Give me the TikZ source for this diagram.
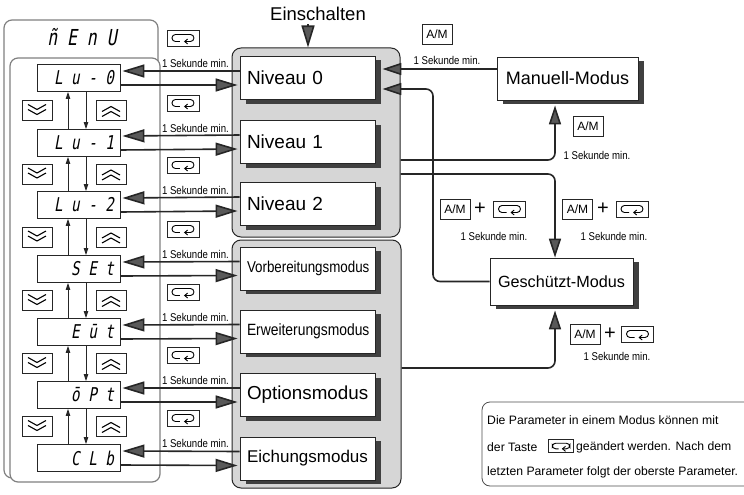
\documentclass[tikz,border=0pt]{standalone}
\usepackage{fontspec}
\setmainfont{Liberation Sans}
\newfontfamily\narrowfont{Liberation Sans}[FakeStretch=0.85]
\newfontfamily\segfont{DejaVu Sans Mono}[FakeSlant=0.18,FakeStretch=0.75,LetterSpace=45]
\usetikzlibrary{arrows.meta,calc,shadows}
\newcommand{\myfs}[1]{\fontsize{#1}{#1}\selectfont}
\begin{document}
\begin{tikzpicture}[x=1pt,y=-1pt,
 conn/.style={draw=black!85,line width=1.6pt},
 bigtip/.style={-{Triangle[length=22pt,width=13pt,fill=black!65]}},
 midtip/.style={-{Triangle[length=19pt,width=12pt,fill=black!65]}},
 smalltip/.style={-{Triangle[length=7pt,width=4.5pt]}},
 grp/.style={draw=black!85,line width=1pt,fill=black!16,rounded corners=9pt,inner sep=0pt},
 shad/.style={drop shadow={shadow xshift=6pt,shadow yshift=-4pt,fill=black!75,opacity=1}},
 modebox/.style={draw=black!85,line width=0.8pt,fill=white,minimum width=135pt,minimum height=43pt,text width=121pt,inner xsep=7pt,align=left,shad},
 sidebox/.style={draw=black!85,line width=0.8pt,fill=white,inner sep=0pt,shad},
 disp/.style={draw=black!85,line width=0.9pt,fill=white,minimum width=83pt,minimum height=27pt,text width=71pt,inner xsep=6pt,inner ysep=0pt,align=right,font=\segfont\myfs{19}},
 menuframe/.style={draw=black!50,line width=1.2pt,rounded corners=8pt},
 keyframe/.style={draw=black!85,line width=0.7pt,fill=white},
 amkey/.style={draw=black!85,line width=0.7pt,fill=white,inner sep=0pt,minimum width=30pt,minimum height=20pt,font=\myfs{12}},
 sek/.style={font=\narrowfont\myfs{11.3},inner sep=0pt},
 plus/.style={font=\myfs{20},inner sep=0pt},
 notetext/.style={anchor=west,font=\myfs{12.2},inner sep=0pt},
 retkey/.pic={
   \draw[keyframe] (-16,-8) rectangle (16,8);
   \draw[line width=0.9pt,rounded corners=3.5pt,-{Straight Barb[length=3pt,width=5pt]}] (-3,3.5) -- (-11,3.5) -- (-11,-3.5) -- (11,-3.5) -- (11,3.5) -- (1,3.5);
   \coordinate (-c) at (0,0);
 },
 downkey/.pic={
   \draw[keyframe] (-15,-10) rectangle (15,10);
   \draw[line width=1.1pt] (-9,-6) -- (0,-1) -- (9,-6) (-9,-1) -- (0,4) -- (9,-1);
   \coordinate (-c) at (0,0);
 },
 upkey/.pic={
   \draw[keyframe] (-15,-10) rectangle (15,10);
   \draw[line width=1.1pt] (-9,1) -- (0,-4) -- (9,1) (-9,6) -- (0,1) -- (9,6);
   \coordinate (-c) at (0,0);
 }]
\useasboundingbox (0,0) rectangle (744,495);

% menu frames
\draw[menuframe] (4,20) rectangle (158,478);
\draw[menuframe,fill=white] (10,58) rectangle (160,482);
\node[font=\segfont\myfs{22}] (menu) at (82,37) {ñEnU};

% displays
\foreach \i/\r/\t in {0/78/Lu-0,1/143/Lu-1,2/205/Lu-2,3/269/SEt,4/332/Eūt,5/395/ōPt,6/458/CLb}
  \node[disp] (d\i) at (78.5,\r) {\t};

\coordinate (ux) at (68,0);
\coordinate (dx) at (86,0);
\foreach \i/\j in {0/1,1/2,2/3,3/4,4/5,5/6} {
  \draw[line width=0.9pt,black!85,smalltip] (d\j.north -| ux) -- (d\i.south -| ux);
  \draw[line width=0.9pt,black!85,smalltip] (d\i.south -| dx) -- (d\j.north -| dx);
  \pic (dk\i) at ($(d\i.south)!0.5!(d\j.north)+(-41.5,0)$) {downkey};
  \pic (uk\i) at ($(d\i.south)!0.5!(d\j.north)+(32.5,0)$) {upkey};
}

% group boxes
\node[grp,minimum width=168pt,minimum height=189pt] (g1) at (316,142.5) {};
\node[grp,minimum width=169pt,minimum height=248pt] (g2) at (316.5,364) {};

% mode boxes
\node[modebox,font=\myfs{19}] (m0) at (307.5,78) {Niveau 0};
\node[modebox,font=\myfs{19}] (m1) at (307.5,142) {Niveau 1};
\node[modebox,font=\myfs{19}] (m2) at (307.5,204) {Niveau 2};
\node[modebox,font=\narrowfont\myfs{15.7}] (m3) at (307.5,268.5) {Vorbereitungsmodus};
\node[modebox,font=\narrowfont\myfs{16.3}] (m4) at (307.5,331.5) {Erweiterungsmodus};
\node[modebox,font=\myfs{18.8}] (m5) at (307.5,395) {Optionsmodus};
\node[modebox,font=\myfs{17}] (m6) at (307.5,458.5) {Eichungsmodus};

% connectors menu <-> modes
\foreach \i in {0,...,6} {
  \draw[conn,bigtip] ($(m\i.west)+(0,-7)$) -- ($(d\i.east)+(2,-7)$);
  \draw[conn,bigtip] ($(d\i.east)+(0,7)$) -- ($(m\i.west)+(-2,7)$);
  \pic (rk\i) at ($(d\i.east)+(62.5,-40)$) {retkey};
  \node[sek] (s\i) at ($(d\i.east)+(75,-15)$) {1 Sekunde min.};
}

% power on
\node[font=\myfs{18.5}] (ein) at (318,14) {Einschalten};
\draw[conn,bigtip] ($(ein.south)+(-10,0)$) -- ($(g1.north)+(-8,0)$);

% right side
\node[sidebox,minimum width=141pt,minimum height=43pt,font=\myfs{18}] (mm) at (567.5,78.5) {Manuell-Modus};
\node[sidebox,minimum width=143pt,minimum height=47pt,font=\myfs{16.2}] (gs) at (561.5,281.5) {Geschützt-Modus};

\draw[conn,midtip] ($(mm.west)+(0,-9.5)$) -- ($(m0.east)+(7,-9)$);
\node[amkey] (am1) at (437,34) {A/M};
\node[sek] (sm1) at (447,60) {1 Sekunde min.};

\coordinate (vx) at (433,0);
\coordinate (n0in) at ($(m0.east)+(7,11)$);
\draw[conn,midtip,rounded corners=7pt] (gs.west) -- (gs.west -| vx) -- (vx |- n0in) -- (n0in);

\coordinate (o1) at ($(g1.east)+(0,17.5)$);
\coordinate (mmin) at ($(mm.south)+(-12.5,5)$);
\draw[conn,midtip,rounded corners=7pt] (o1) -| (mmin);
\coordinate (o2) at ($(g1.east)+(0,31.5)$);
\coordinate (gsin) at ($(gs.north)+(-6.5,0)$);
\draw[conn,midtip,rounded corners=7pt] (o2) -| (gsin);
\coordinate (o3) at ($(g2.east)+(0,4)$);
\coordinate (gsin2) at ($(gs.south)+(-6.5,5)$);
\draw[conn,midtip,rounded corners=7pt] (o3) -| (gsin2);

% key labels
\node[amkey] (am2) at (588,126) {A/M};
\node[sek] (sm2) at (597,155) {1 Sekunde min.};
\node[amkey] (am3) at (455,209) {A/M};
\node[plus] (p3) at (480,209) {+};
\pic (rk7) at (509.5,209) {retkey};
\node[sek] (sm3) at (494,236) {1 Sekunde min.};
\node[amkey] (am4) at (577.5,209) {A/M};
\node[plus] (p4) at (603,209) {+};
\pic (rk8) at (632,209) {retkey};
\node[sek] (sm4) at (614,236) {1 Sekunde min.};
\node[amkey] (am5) at (585,334) {A/M};
\node[plus] (p5) at (610,334) {+};
\pic (rk9) at (637.5,334) {retkey};
\node[sek] (sm5) at (617,356) {1 Sekunde min.};

% note
\draw[draw=black!70,line width=0.8pt,rounded corners=8pt] (482,402) rectangle (770,486);
\node[notetext] (t1) at (487,420) {Die Parameter in einem Modus können mit};
\node[notetext] (t2a) at (487,447) {der Taste};
\pic[scale=0.8] (rk10) at (561,446) {retkey};
\node[notetext] (t2b) at (576,447) {geändert werden. Nach dem};
\node[notetext] (t3) at (487,472) {letzten Parameter folgt der oberste Parameter.};
\end{tikzpicture}
\end{document}
